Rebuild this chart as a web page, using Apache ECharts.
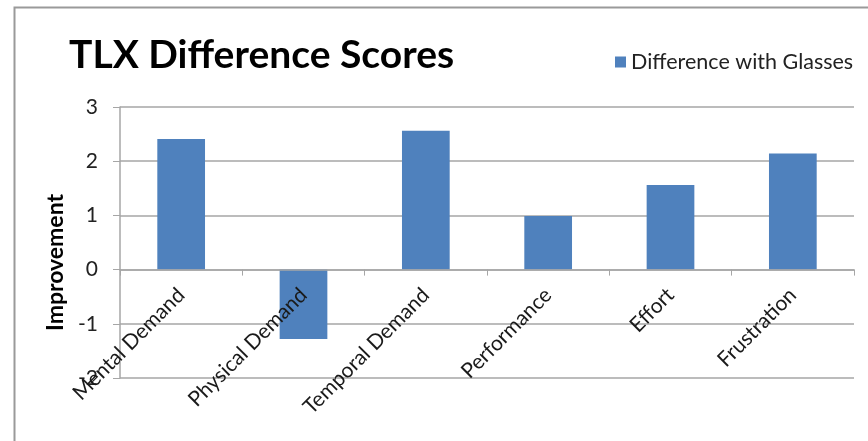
<!DOCTYPE html>
<html>
<head>
<meta charset="utf-8">
<script src="https://cdn.jsdelivr.net/npm/echarts@6/dist/echarts.min.js"></script>
<style>
  html, body { margin: 0; padding: 0; background: #fff; }
  #chart { width: 868px; height: 441px; }
</style>
</head>
<body>
<div id="chart"></div>
<script>
// NASA-TLX subscales and the score change when wearing glasses
const categories = ['Mental Demand', 'Physical Demand', 'Temporal Demand', 'Performance', 'Effort', 'Frustration'];
const differenceWithGlasses = [2.41, -1.28, 2.56, 0.99, 1.56, 2.14];
const seriesName = 'Difference with Glasses';
const yMin = -2, yMax = 3, yStep = 1;

const FONT = 'Lato, "Open Sans", sans-serif';
const GRID_GRAY = '#a6a6a6';

const GRID = { left: 120, right: 14, top: 107, bottom: 63 };
const CHART_H = 441;
// the category axis sits on the value 0 line, labels included
const plotH = CHART_H - GRID.top - GRID.bottom;
const zeroOffset = -plotH * (0 - yMin) / (yMax - yMin);

const chart = echarts.init(document.getElementById('chart'), null, { renderer: 'canvas' });

chart.setOption({
  animation: false,
  backgroundColor: '#ffffff',
  title: {
    text: 'TLX Difference Scores',
    left: 64,
    top: 31,
    textStyle: { fontFamily: FONT, fontWeight: 'bold', fontSize: 39, color: '#000' }
  },
  legend: {
    data: [seriesName],
    left: 610,
    top: 46,
    icon: 'rect',
    itemWidth: 11,
    itemHeight: 11,
    itemGap: 4,
    textStyle: { fontFamily: FONT, fontSize: 21.5, color: '#222' }
  },
  graphic: [{
    type: 'rect',
    left: 12, top: 5,
    shape: { width: 900, height: 500 },
    style: { fill: 'none', stroke: '#9a9a9a', lineWidth: 2 },
    silent: true
  }],
  grid: Object.assign({ containLabel: false, outerBoundsMode: 'none' }, GRID),
  xAxis: {
    type: 'category',
    data: categories,
    position: 'bottom',
    offset: zeroOffset,
    z: 3,
    axisLine: { onZero: false, lineStyle: { color: GRID_GRAY, width: 1.5 } },
    axisTick: { show: true, length: 6, lineStyle: { color: GRID_GRAY } },
    axisLabel: {
      interval: 0, rotate: 45, margin: 22,
      fontFamily: FONT, fontSize: 21, color: '#1a1a1a'
    },
    splitLine: { show: false }
  },
  yAxis: {
    type: 'value',
    min: yMin, max: yMax, interval: yStep,
    name: 'Improvement',
    nameLocation: 'middle',
    nameGap: 53,
    nameRotate: 90,
    nameTextStyle: { fontFamily: FONT, fontWeight: 'bold', fontSize: 23, color: '#000', padding: [0, 40, 0, 0] },
    axisLine: { show: true, lineStyle: { color: GRID_GRAY, width: 1.5 } },
    axisTick: { show: true, length: 7, lineStyle: { color: GRID_GRAY } },
    axisLabel: { margin: 22, fontFamily: FONT, fontSize: 21, color: '#222' },
    splitLine: { show: true, lineStyle: { color: GRID_GRAY, width: 1.5 } }
  },
  series: [{
    name: seriesName,
    type: 'bar',
    data: differenceWithGlasses,
    barWidth: '39%',
    itemStyle: { color: '#4f81bd' }
  }]
});
</script>
</body>
</html>
